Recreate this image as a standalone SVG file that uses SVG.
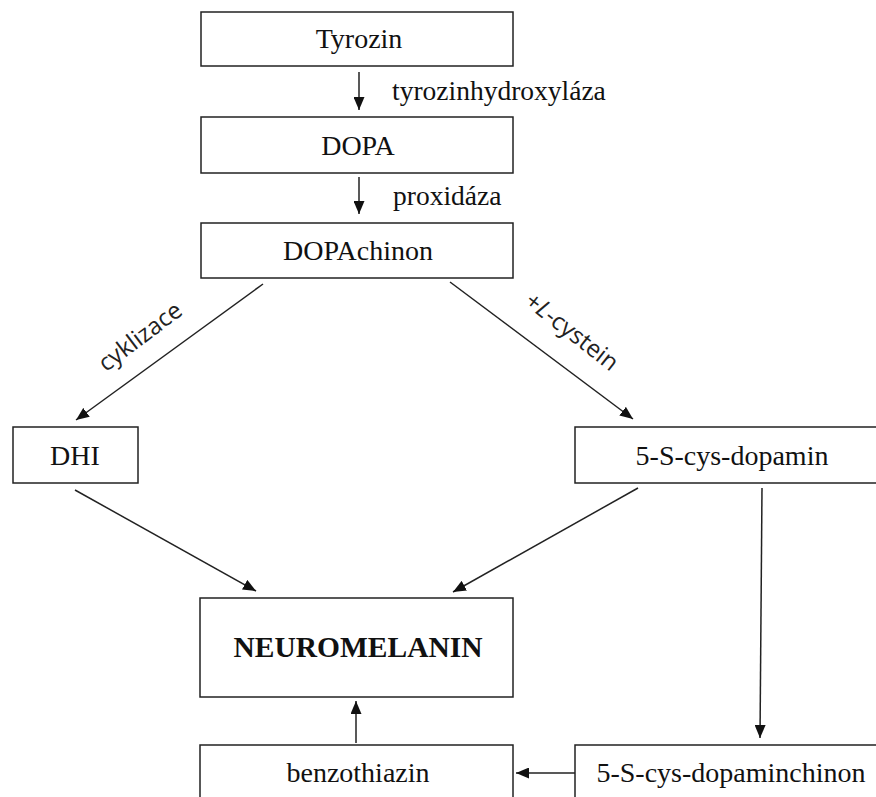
<svg xmlns="http://www.w3.org/2000/svg" width="876" height="797" viewBox="0 0 876 797">
<style>
.box{fill:#fff;stroke:#222;stroke-width:1.5}
.t{font-family:"Liberation Serif","Times New Roman",serif;font-size:28px;fill:#111;text-anchor:middle}
.lab{font-family:"Liberation Serif","Times New Roman",serif;font-size:27.5px;fill:#111}
.s{font-family:"Open Sans","DejaVu Sans",sans-serif;font-size:24px;fill:#222;text-anchor:middle}
.c{stroke:#222;stroke-width:1.5;fill:none;marker-end:url(#ah)}
.big{font-size:29.5px;font-weight:bold}
</style>
<defs>
<marker id="ah" viewBox="0 0 13 11" refX="13" refY="5.5" markerWidth="13" markerHeight="11" markerUnits="userSpaceOnUse" orient="auto">
<path d="M0,0 L13,5.5 L0,11 Z" fill="#111"/>
</marker>
</defs>
<rect width="876" height="797" fill="#fff"/>
<g id="connectors">
<line class="c" x1="359" y1="72" x2="359" y2="110"/>
<line class="c" x1="359" y1="177" x2="359" y2="214"/>
<line class="c" x1="263" y1="284" x2="76" y2="420"/>
<line class="c" x1="450" y1="282" x2="633" y2="419"/>
<line class="c" x1="75" y1="490" x2="256" y2="591"/>
<line class="c" x1="638" y1="488" x2="453" y2="592"/>
<line class="c" x1="762" y1="488" x2="760" y2="738"/>
<line class="c" x1="575" y1="773" x2="516" y2="773"/>
<line class="c" x1="356" y1="743" x2="356" y2="701"/>
<text class="s" transform="translate(145,343) rotate(-37)">cyklizace</text>
<text class="s" transform="translate(567,338) rotate(38)">+<tspan font-style="italic">L</tspan>-cystein</text>
<text class="lab" x="392" y="100">tyrozinhydroxyláza</text>
<text class="lab" x="393" y="205">proxidáza</text>
</g>
<g id="tyrozin"><rect class="box" x="201" y="12" width="312" height="54"/><text class="t" x="359" y="48">Tyrozin</text></g>
<g id="dopa"><rect class="box" x="201" y="117" width="312" height="56"/><text class="t" x="358" y="155">DOPA</text></g>
<g id="dopachinon"><rect class="box" x="201" y="223" width="312" height="55"/><text class="t" x="358" y="260">DOPAchinon</text></g>
<g id="dhi"><rect class="box" x="13" y="427" width="125" height="56"/><text class="t" x="75" y="465">DHI</text></g>
<g id="cysdopamin"><rect class="box" x="575" y="427" width="315" height="56"/><text class="t" x="732" y="465">5-S-cys-dopamin</text></g>
<g id="neuromelanin"><rect class="box" x="200" y="598" width="313" height="99"/><text class="t big" x="358" y="657">NEUROMELANIN</text></g>
<g id="benzothiazin"><rect class="box" x="200" y="745" width="313" height="60"/><text class="t" x="358" y="782">benzothiazin</text></g>
<g id="cysdopaminchinon"><rect class="box" x="575" y="745" width="315" height="60"/><text class="t" x="731" y="782">5-S-cys-dopaminchinon</text></g>
</svg>
